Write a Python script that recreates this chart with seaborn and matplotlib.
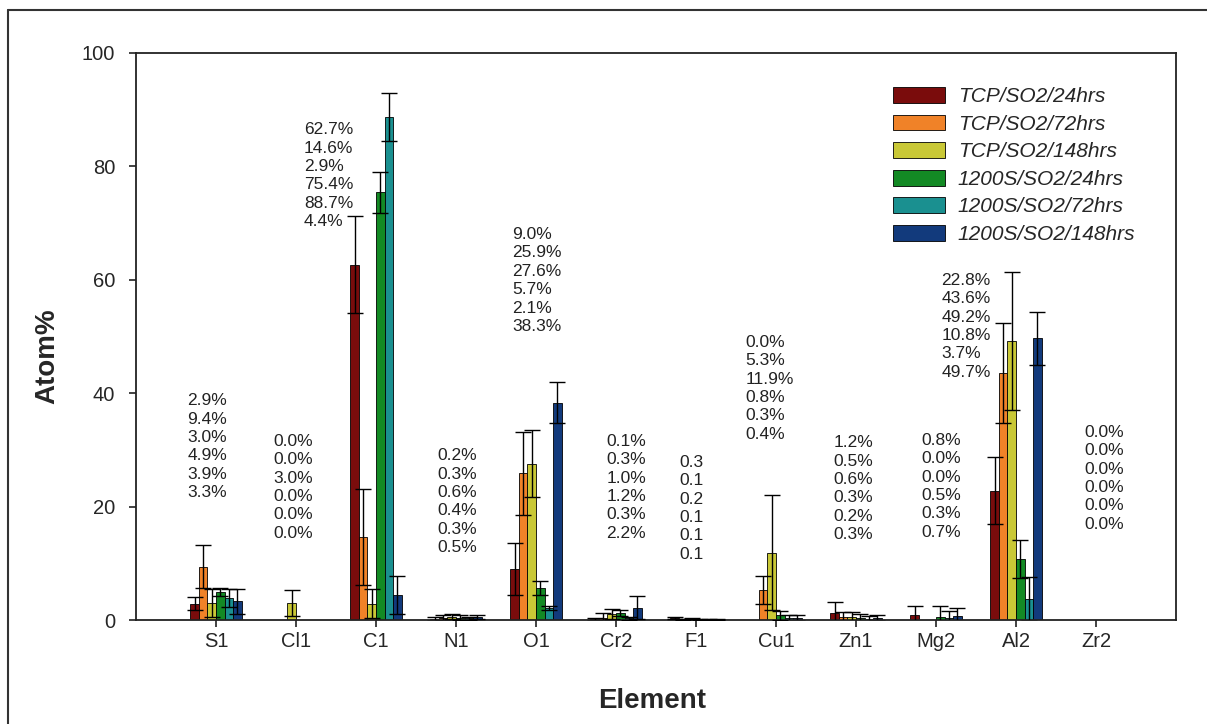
import matplotlib
matplotlib.use('Agg')
import matplotlib.pyplot as plt
import pandas as pd
import seaborn as sns
import numpy as np
from matplotlib.lines import Line2D
#-------------------------------
elements = ['S1', 'Cl1', 'C1', 'N1', 'O1', 'Cr2', 'F1', 'Cu1', 'Zn1', 'Mg2', 'Al2', 'Zr2']
series = ['TCP/SO2/24hrs', 'TCP/SO2/72hrs', 'TCP/SO2/148hrs',
          '1200S/SO2/24hrs', '1200S/SO2/72hrs', '1200S/SO2/148hrs']
kolory = ['#7a0c0c', '#f08228', '#c9c836', '#138a24', '#1a9090', '#123a7c']

# srednie (kolejnosc serii jak wyzej)
tcp_24 = [2.9, 0.0, 62.7, 0.2, 9.0, 0.1, 0.3, 0.0, 1.2, 0.8, 22.8, 0.0]
tcp_72 = [9.4, 0.0, 14.6, 0.3, 25.9, 0.3, 0.1, 5.3, 0.5, 0.0, 43.6, 0.0]
tcp_148 = [3.0, 3.0, 2.9, 0.6, 27.6, 1.0, 0.2, 11.9, 0.6, 0.0, 49.2, 0.0]
s1200_24 = [4.9, 0.0, 75.4, 0.4, 5.7, 1.2, 0.1, 0.8, 0.3, 0.5, 10.8, 0.0]
s1200_72 = [3.9, 0.0, 88.7, 0.3, 2.1, 0.3, 0.1, 0.3, 0.2, 0.3, 3.7, 0.0]
s1200_148 = [3.3, 0.0, 4.4, 0.5, 38.3, 2.2, 0.1, 0.4, 0.3, 0.7, 49.7, 0.0]

# odchylenia
err_tcp_24 = [1.2, 0.0, 8.5, 0.3, 4.5, 0.2, 0.2, 0.0, 2.0, 1.7, 5.9, 0.0]
err_tcp_72 = [3.8, 0.0, 8.5, 0.5, 7.3, 0.9, 0.1, 2.5, 1.0, 0.0, 8.8, 0.0]
err_tcp_148 = [2.5, 2.3, 2.6, 0.5, 5.9, 0.9, 0.1, 10.1, 0.9, 0.0, 12.2, 0.0]
err_s1200_24 = [0.7, 0.0, 3.6, 0.4, 1.2, 0.5, 0.1, 0.8, 0.8, 1.9, 3.4, 0.0]
err_s1200_72 = [1.6, 0.0, 4.2, 0.3, 0.3, 0.3, 0.1, 0.6, 0.5, 1.3, 3.9, 0.0]
err_s1200_148 = [2.2, 0.0, 3.4, 0.3, 3.6, 2.0, 0.1, 0.5, 0.5, 1.4, 4.7, 0.0]

sufiks = ['%', '%', '%', '%', '%', '%', '', '%', '%', '%', '%', '%']

# polozenie opisow (lewa krawedz w jednostkach kategorii, gora w Atom%)
opis_x = [-0.36, 0.72, 1.10, 2.77, 3.70, 4.88, 5.79, 6.62, 7.72, 8.82, 9.07, 10.85]
opis_y = [40.0, 32.8, 87.8, 30.3, 69.3, 32.8, 29.1, 50.3, 32.6, 33.0, 61.2, 34.4]
#-------------------------------

srednie = [tcp_24, tcp_72, tcp_148, s1200_24, s1200_72, s1200_148]
bledy = [err_tcp_24, err_tcp_72, err_tcp_148, err_s1200_24, err_s1200_72, err_s1200_148]

df = pd.DataFrame({
    'Element': np.tile(elements, len(series)),
    'Seria': np.repeat(series, len(elements)),
    'Atom': np.concatenate(srednie),
})

sns.set_style('ticks')
plt.rcParams['font.family'] = ['Liberation Sans', 'DejaVu Sans']

fig = plt.figure(figsize=(12.07, 7.24), dpi=100)
ax = fig.add_axes([0.1127, 0.1436, 0.8616, 0.7832])

sns.barplot(data=df, x='Element', y='Atom', hue='Seria', order=elements, hue_order=series,
            palette=kolory, saturation=1, width=0.64, errorbar=None, edgecolor='black',
            linewidth=0.6, gap=0, ax=ax)

# slupki bledow
for kont, err in zip(ax.containers, bledy):
    xs = np.array([p.get_x() + p.get_width() / 2 for p in kont])
    ys = np.array([p.get_height() for p in kont])
    e = np.array(err)
    m = e > 0
    ax.errorbar(xs[m], ys[m], yerr=e[m], fmt='none', ecolor='black', elinewidth=1.0,
                capsize=6, capthick=1.0, zorder=5)

# opisy procentowe
for i, el in enumerate(elements):
    linie = ['{:.1f}{}'.format(s[i], sufiks[i]) for s in srednie]
    ax.text(opis_x[i], opis_y[i], '\n'.join(linie), ha='left', va='top', fontsize=12.5,
            linespacing=1.28, color='#222222')

ax.set_xlim(-1, 12)
ax.set_ylim(0, 100)
ax.set_yticks([0, 20, 40, 60, 80, 100])
ax.tick_params(axis='both', labelsize=14.5, length=5, width=1.2, direction='out', color='#222222')
ax.tick_params(axis='y', pad=10)
for s in ax.spines.values():
    s.set_visible(True)
    s.set_linewidth(1.3)
    s.set_color('#222222')

ax.set_xlabel('Element', fontsize=20, fontweight='bold')
ax.set_ylabel('Atom%', fontsize=20, fontweight='bold')
ax.xaxis.set_label_coords(0.496, -0.12)
ax.yaxis.set_label_coords(-0.073, 0.465)

uchwyty, etykiety = ax.get_legend_handles_labels()
ax.legend(uchwyty, etykiety, loc='upper left', bbox_to_anchor=(0.728, 0.94), frameon=False,
          borderpad=0, borderaxespad=0, handlelength=2.5, handleheight=0.8,
          handletextpad=0.6, labelspacing=0.4, prop={'size': 15, 'style': 'italic'})

# ramka obrazka
fig.add_artist(Line2D([8 / 1207, 1], [1 - 10 / 724, 1 - 10 / 724], color='#333333', lw=1.5))
fig.add_artist(Line2D([8 / 1207, 8 / 1207], [0, 1 - 10 / 724], color='#333333', lw=1.5))

fig.savefig('out.png', dpi=100)
